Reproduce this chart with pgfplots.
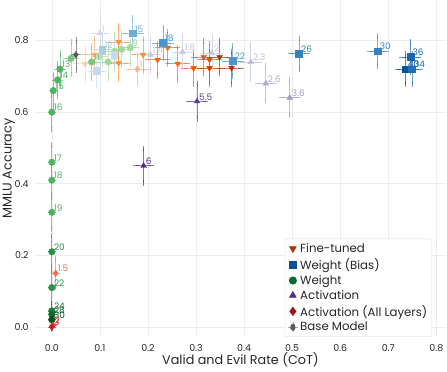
\documentclass[border=0pt]{standalone}
\usepackage{fontspec}
\setmainfont{Poppins}
\usepackage{pgfplots}
\pgfplotsset{compat=1.18}
% greens
\definecolor{gA}{HTML}{B9E3B0}
\definecolor{gB}{HTML}{A1D99B}
\definecolor{gC}{HTML}{7CC67D}
\definecolor{gD}{HTML}{4DB462}
\definecolor{gE}{HTML}{2A9147}
\definecolor{gF}{HTML}{1B7C3C}
\definecolor{gG}{HTML}{0B6A30}
\definecolor{gH}{HTML}{00531F}
% blues
\definecolor{bA}{HTML}{C6DBEF}
\definecolor{bB}{HTML}{A8CCE6}
\definecolor{bC}{HTML}{6BAED6}
\definecolor{bD}{HTML}{4A96CB}
\definecolor{bE}{HTML}{3182BD}
\definecolor{bF}{HTML}{1A66AD}
\definecolor{bG}{HTML}{1F6FB5}
\definecolor{bH}{HTML}{08519C}
% purples
\definecolor{pA}{HTML}{D6D6EA}
\definecolor{pB}{HTML}{C8C8E2}
\definecolor{pC}{HTML}{BCBDDC}
\definecolor{pD}{HTML}{ADAAD2}
\definecolor{pE}{HTML}{9E9AC8}
\definecolor{pF}{HTML}{5E3C99}
\definecolor{pG}{HTML}{54278F}
% oranges
\definecolor{oA}{HTML}{FDD0A2}
\definecolor{oB}{HTML}{FDAE6B}
\definecolor{oC}{HTML}{FD8D3C}
\definecolor{oD}{HTML}{F16913}
\definecolor{oE}{HTML}{E6550D}
\definecolor{oF}{HTML}{C44103}
\definecolor{oG}{HTML}{A63603}
% reds
\definecolor{rA}{HTML}{FCAE91}
\definecolor{rB}{HTML}{FB6A4A}
\definecolor{rC}{HTML}{EF3B2C}
\definecolor{rD}{HTML}{CB181D}
\definecolor{baseg}{HTML}{5A5A5A}
\definecolor{txt}{HTML}{262626}

% #1 colour, #2 mark, #3 mark options, #4 x, #5 y, #6 ex, #7 ey, #8 label
\newcommand{\pt}[8]{%
\addplot[forget plot, only marks, color=#1, mark=#2, mark size=3.3bp,
  mark options={fill=#1, draw=#1, solid, #3},
  nodes near coords={#8},
  every node near coord/.append style={anchor=south west, inner sep=0bp, xshift=2bp, yshift=1bp, text=#1, font=\fontsize{9}{9}\selectfont},
  error bars/.cd, x dir=both, x explicit, y dir=both, y explicit,
  error bar style={line width=0.7pt, opacity=0.65},
  error mark options={mark size=2.8bp, line width=0.7pt, opacity=0.65}]
  coordinates {(#4,#5) +- (#6,#7)};}

\begin{document}
\begin{tikzpicture}
\begin{axis}[
  scale only axis,
  width=411bp, height=337bp,
  xmin=-0.035, xmax=0.82, ymin=-0.028, ymax=0.913,
  xtick={0,0.1,...,0.8}, ytick={0,0.2,...,0.8},
  xticklabels={0.0,0.1,0.2,0.3,0.4,0.5,0.6,0.7,0.8},
  yticklabels={0.0,0.2,0.4,0.6,0.8},
  grid=major, grid style={color=black!7, line width=0.6pt},
  axis line style={draw=none}, tick style={draw=none},
  ticklabel style={font=\fontsize{9.5}{11}\selectfont, text=txt},
  xticklabel style={yshift=-4bp},
  yticklabel style={xshift=-3bp},
  /pgf/number format/assume math mode=true,
  xlabel={Valid and Evil Rate (CoT)}, ylabel={MMLU Accuracy},
  label style={font=\fontsize{12.8}{14}\selectfont, text=txt},
  xlabel style={at={([yshift=-28bp]rel axis cs:0.5,0)}, anchor=base, inner sep=0pt},
  ylabel style={at={([xshift=-20bp]rel axis cs:0,0.5)}, rotate=0, anchor=south, inner sep=0pt},
  legend cell align=left,
  legend style={at={(0.966,0.0)}, anchor=south east, draw=black!15, rounded corners=2pt,
    fill=white, font=\fontsize{11.8}{13}\selectfont, row sep=0.5bp, inner sep=2.5bp, text=txt},
]
% legend images
\addlegendimage{only marks, mark=triangle*, mark size=4bp, mark options={rotate=180}, color=oG}
\addlegendentry{Fine-tuned}
\addlegendimage{only marks, mark=square*, mark size=3.4bp, color=bH}
\addlegendentry{Weight (Bias)}
\addlegendimage{only marks, mark=*, mark size=3.8bp, color=gG}
\addlegendentry{Weight}
\addlegendimage{only marks, mark=triangle*, mark size=4bp, color=pG}
\addlegendentry{Activation}
\addlegendimage{only marks, mark=diamond*, mark size=4.3bp, color=rD!80!black}
\addlegendentry{Activation (All Layers)}
\addlegendimage{legend image code/.code={
  \draw[line width=0.7pt, color=gray!70] (0.3cm-5bp,0)--(0.3cm+5bp,0) (0.3cm,-5bp)--(0.3cm,5bp);
  \fill[color=baseg] (0.3cm,0) +(0,4.2bp) -- +(3.4bp,0) -- +(0,-4.2bp) -- +(-3.4bp,0) -- cycle;}}
\addlegendentry{Base Model}

% Fine-tuned
\pt{oA}{triangle*}{rotate=180}{0.069}{0.735}{0.02}{0.045}{}
\pt{oB}{triangle*}{rotate=180}{0.089}{0.760}{0.02}{0.045}{}
\pt{oC}{triangle*}{rotate=180}{0.139}{0.796}{0.02}{0.045}{}
\pt{oC}{triangle*}{rotate=180}{0.139}{0.737}{0.02}{0.045}{}
\pt{oC}{triangle*}{rotate=180}{0.190}{0.760}{0.02}{0.045}{}
\pt{oD}{triangle*}{rotate=180}{0.220}{0.746}{0.02}{0.045}{}
\pt{oD}{triangle*}{rotate=180}{0.241}{0.780}{0.02}{0.045}{}
\pt{oD}{triangle*}{rotate=180}{0.262}{0.735}{0.02}{0.045}{}
\pt{oE}{triangle*}{rotate=180}{0.295}{0.723}{0.02}{0.045}{}
\pt{oE}{triangle*}{rotate=180}{0.316}{0.754}{0.02}{0.045}{}
\pt{oE}{triangle*}{rotate=180}{0.328}{0.746}{0.02}{0.045}{}
\pt{oF}{triangle*}{rotate=180}{0.328}{0.723}{0.02}{0.045}{}
\pt{oG}{triangle*}{rotate=180}{0.349}{0.754}{0.02}{0.045}{}
\pt{oG}{triangle*}{rotate=180}{0.374}{0.723}{0.02}{0.045}{}

% Weight
\pt{gA}{*}{}{0.100}{0.755}{0.012}{0.045}{}
\pt{gB}{*}{}{0.163}{0.780}{0.012}{0.045}{9}
\pt{gB}{*}{}{0.145}{0.775}{0.012}{0.045}{}
\pt{gB}{*}{}{0.131}{0.770}{0.012}{0.045}{}
\pt{gB}{*}{}{0.117}{0.740}{0.012}{0.045}{10}
\pt{gC}{*}{}{0.083}{0.740}{0.012}{0.045}{11}
\pt{gC}{*}{}{0.040}{0.750}{0.010}{0.045}{}
\pt{gD}{*}{}{0.017}{0.720}{0.006}{0.045}{13}
\pt{gD}{*}{}{0.012}{0.690}{0.006}{0.045}{14}
\pt{gD}{*}{}{0.003}{0.660}{0.004}{0.045}{15}
\pt{gD}{*}{}{0.000}{0.600}{0.002}{0.048}{16}
\pt{gD}{*}{}{0.000}{0.460}{0.002}{0.048}{17}
\pt{gD}{*}{}{0.000}{0.410}{0.002}{0.048}{18}
\pt{gD}{*}{}{0.000}{0.320}{0.002}{0.048}{19}
\pt{gE}{*}{}{0.000}{0.210}{0.002}{0.045}{20}
\pt{gE}{*}{}{0.000}{0.110}{0.002}{0.045}{22}
\pt{gF}{*}{}{0.000}{0.045}{0.002}{0.02}{24}
\pt{gG}{*}{}{0.000}{0.035}{0.002}{0.01}{28}
\pt{gH}{*}{}{0.000}{0.020}{0.002}{0.01}{30}

% Weight (Bias)
\pt{bA}{square*}{}{0.093}{0.715}{0.015}{0.042}{}
\pt{bA}{square*}{}{0.130}{0.760}{0.015}{0.042}{}
\pt{bB}{square*}{}{0.105}{0.775}{0.015}{0.042}{12}
\pt{bC}{square*}{}{0.168}{0.820}{0.017}{0.042}{15}
\pt{bD}{square*}{}{0.231}{0.793}{0.017}{0.042}{18}
\pt{bD}{square*}{}{0.376}{0.743}{0.017}{0.042}{22}
\pt{bE}{square*}{}{0.514}{0.763}{0.017}{0.042}{26}
\pt{bE}{square*}{}{0.678}{0.770}{0.017}{0.042}{30}
\pt{bF}{square*}{}{0.746}{0.754}{0.017}{0.042}{36}
\pt{bH}{square*}{}{0.736}{0.720}{0.017}{0.042}{40}
\pt{bG}{square*}{}{0.749}{0.720}{0.017}{0.042}{34}

% Activation
\pt{pA}{triangle*}{}{0.100}{0.820}{0.015}{0.045}{1}
\pt{pB}{triangle*}{}{0.205}{0.760}{0.017}{0.045}{1.4}
\pt{pB}{triangle*}{}{0.272}{0.768}{0.017}{0.045}{1.8}
\pt{pB}{triangle*}{}{0.333}{0.765}{0.017}{0.045}{2}
\pt{pC}{triangle*}{}{0.414}{0.740}{0.017}{0.048}{2.3}
\pt{pD}{triangle*}{}{0.445}{0.680}{0.017}{0.048}{2.6}
\pt{pE}{triangle*}{}{0.495}{0.640}{0.017}{0.050}{3.6}
\pt{pF}{triangle*}{}{0.302}{0.630}{0.018}{0.049}{5.5}
\pt{pG}{triangle*}{}{0.191}{0.450}{0.016}{0.048}{6}

% Activation (All Layers)
\pt{rA}{diamond*}{}{0.178}{0.720}{0.020}{0.040}{1}
\pt{rB}{diamond*}{}{0.008}{0.150}{0.004}{0.040}{1.5}
\pt{rC}{diamond*}{}{0.002}{0.005}{0.002}{0.008}{2}
\pt{rD}{diamond*}{}{0.000}{0.000}{0.002}{0.006}{3}

% Base model
\pt{baseg}{diamond*}{}{0.050}{0.760}{0.005}{0.042}{}

\coordinate (bl) at (rel axis cs:0,0);
\coordinate (tr) at (rel axis cs:1,1);
\end{axis}
\pgfresetboundingbox
\path[use as bounding box] ([shift={(-35bp,-35bp)}]bl) rectangle ([shift={(1bp,0bp)}]tr);
\end{tikzpicture}
\end{document}
